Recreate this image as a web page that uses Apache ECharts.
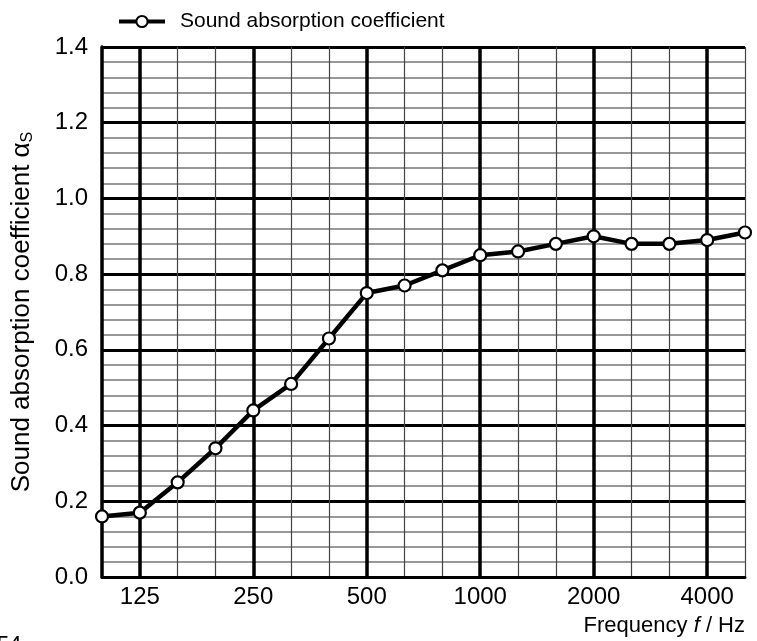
<!DOCTYPE html>
<html>
<head>
<meta charset="utf-8">
<script src="https://cdn.jsdelivr.net/npm/echarts@6/dist/echarts.min.js"></script>
<style>
  html, body { margin: 0; padding: 0; background: #fff; }
  #chart { width: 757px; height: 641px; }
</style>
</head>
<body>
<div id="chart"></div>
<script>
// third-octave band centre frequencies (Hz)
const frequencies = ['100', '125', '160', '200', '250', '315', '400', '500', '630',
  '800', '1000', '1250', '1600', '2000', '2500', '3150', '4000', '5000']
const octaveLabels = ['125', '250', '500', '1000', '2000', '4000']
const absorption = [0.16, 0.17, 0.25, 0.34, 0.44, 0.51, 0.63, 0.75, 0.77,
  0.81, 0.85, 0.86, 0.88, 0.90, 0.88, 0.88, 0.89, 0.91]

const font = 'Liberation Sans, Arial, sans-serif'
const isOctave = (i) => octaveLabels.includes(frequencies[i])

const chart = echarts.init(document.getElementById('chart'), null, { renderer: 'canvas' })

chart.setOption({
  animation: false,
  textStyle: { fontFamily: font },
  legend: {
    left: 112,
    top: 6,
    itemWidth: 46,
    itemHeight: 14,
    lineStyle: { width: 4, color: '#000' },
    textStyle: { color: '#000', fontSize: 21, fontFamily: font, padding: [0, 0, 0, 10] },
    data: ['Sound absorption coefficient'],
  },
  grid: { left: 102, right: 12, top: 47, bottom: 64, containLabel: false },
  xAxis: [
    {
      type: 'category',
      data: frequencies,
      boundaryGap: false,
      name: '{n|Frequency }{i|f}{n| / Hz}',
      nameLocation: 'end',
      nameGap: 0,
      nameTextStyle: {
        align: 'right',
        verticalAlign: 'top',
        padding: [38, 0, 0, 0],
        rich: {
          n: { fontSize: 22, color: '#000', fontFamily: font },
          i: { fontSize: 22, color: '#000', fontStyle: 'italic', fontFamily: font },
        },
      },
      axisLine: { show: true, lineStyle: { color: '#000', width: 3 } },
      axisTick: { show: false },
      axisLabel: {
        interval: (i) => isOctave(i),
        color: '#000',
        fontSize: 24,
        margin: 8,
        fontFamily: font,
      },
      splitLine: {
        show: true,
        interval: 0,
        lineStyle: { color: '#444', width: 1.2 },
      },
    },
    {
      type: 'category',
      data: frequencies,
      boundaryGap: false,
      position: 'bottom',
      axisLine: { show: false },
      axisTick: { show: false },
      axisLabel: { show: false },
      splitLine: {
        show: true,
        interval: (i) => isOctave(i),
        lineStyle: { color: '#000', width: 3.5 },
      },
    },
  ],
  yAxis: {
    type: 'value',
    min: 0,
    max: 1.4,
    interval: 0.2,
    name: '{n|Sound absorption coefficient }{a|α}{s|S}',
    nameLocation: 'middle',
    nameGap: 66,
    nameTextStyle: {
      rich: {
        n: { fontSize: 26, color: '#000', fontFamily: font },
        a: { fontSize: 26, color: '#000', fontFamily: font },
        s: { fontSize: 16, color: '#000', fontFamily: font, padding: [12, 0, 0, 0] },
      },
    },
    axisLine: { show: true, lineStyle: { color: '#000', width: 3.5 } },
    axisTick: { show: false },
    axisLabel: {
      color: '#000',
      fontSize: 24,
      margin: 14,
      fontFamily: font,
      formatter: (v) => v.toFixed(1),
    },
    splitLine: { show: true, lineStyle: { color: '#000', width: 3 } },
    minorTick: { show: false, splitNumber: 5 },
    minorSplitLine: { show: true, lineStyle: { color: '#777', width: 1.5 } },
  },
  graphic: [
    {
      type: 'text',
      left: -3,
      top: 634,
      style: { text: '54', fontSize: 22, fill: '#000', fontFamily: font },
    },
  ],
  series: [
    {
      name: 'Sound absorption coefficient',
      type: 'line',
      data: absorption,
      symbol: 'circle',
      symbolSize: 12,
      showAllSymbol: true,
      lineStyle: { color: '#000', width: 4.5 },
      itemStyle: { color: '#fff', borderColor: '#000', borderWidth: 2.2 },
      z: 10,
    },
  ],
})
</script>
</body>
</html>
